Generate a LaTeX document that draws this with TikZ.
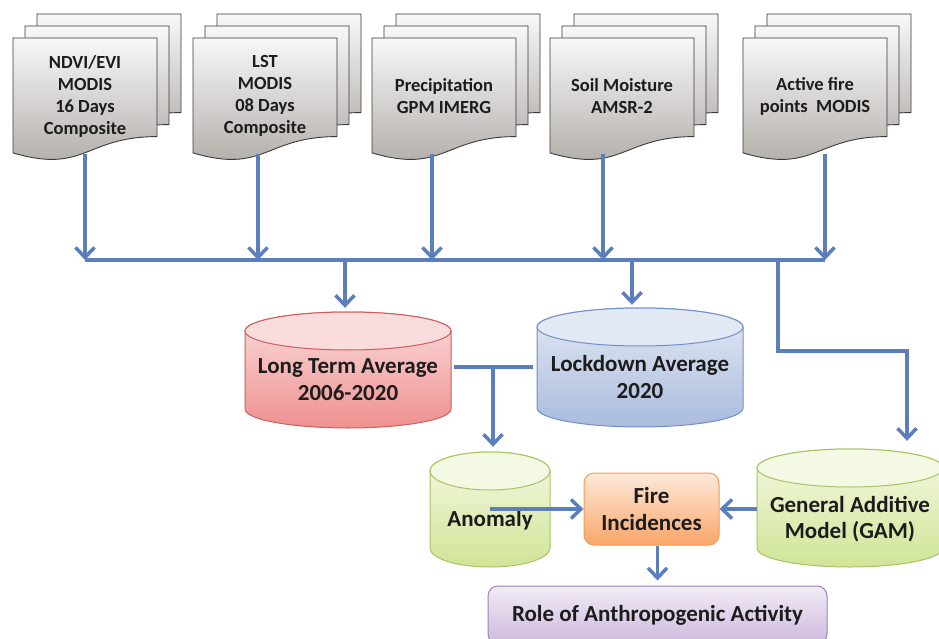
\documentclass[tikz,border=0pt]{standalone}
\usepackage{fontspec}
\setmainfont{Carlito}
\usetikzlibrary{arrows.meta,calc}
\definecolor{arrblue}{HTML}{5B7EBD}
\definecolor{txt}{HTML}{1C1C1C}
\definecolor{docTop}{HTML}{F8F8F8}
\definecolor{docBot}{HTML}{ADA8A3}
\definecolor{docLine}{HTML}{3A3A3A}
\definecolor{redTop}{HTML}{FBDCDC}
\definecolor{redBot}{HTML}{EF9090}
\definecolor{redLine}{HTML}{CB5F5C}
\definecolor{bluTop}{HTML}{E3E9F4}
\definecolor{bluBot}{HTML}{AABBDD}
\definecolor{bluLine}{HTML}{7090C8}
\definecolor{grnTop}{HTML}{F4F9E3}
\definecolor{grnBot}{HTML}{D0E497}
\definecolor{grnLine}{HTML}{A6C462}
\definecolor{orgTop}{HTML}{FDE9DA}
\definecolor{orgBot}{HTML}{F9A66A}
\definecolor{orgLine}{HTML}{F49A52}
\definecolor{purTop}{HTML}{F2ECF6}
\definecolor{purBot}{HTML}{CCB8DC}
\definecolor{purLine}{HTML}{9E80BA}
\tikzset{
  conn/.style={draw=arrblue, line width=3.5pt},
  arr/.style={conn, -{Straight Barb[length=10pt,width=19pt]}},
  doctext/.style={font=\bfseries\fontsize{18.5}{22}\selectfont, align=center, text=txt,
    inner sep=0pt, minimum width=144pt, minimum height=116pt},
  bigtext/.style={font=\bfseries\fontsize{23}{26.5}\selectfont, align=center, text=txt},
  boxnode/.style={bigtext, line width=1pt, rounded corners=10pt, inner sep=0pt},
}
% one page of a document stack: left, top
\newcommand\docpage[2]{%
  \shade[top color=docTop,bottom color=docBot,draw=docLine,line width=0.9pt]
  (#1,#2) -- (#1+144,#2) -- (#1+144,#2+98.6)
  .. controls (#1+72,#2+98.6) and (#1+72,#2+136.2) .. (#1,#2+114.9) -- cycle;}
\newcommand\docstack[2]{\docpage{#1+24}{#2-24}\docpage{#1+12}{#2-12}\docpage{#1}{#2}}
% cylinder: name, cx, top y, half width, bottom y, top colour, bottom colour, line colour, ry
\newcommand\cyl[9]{%
  \shade[top color=#6,bottom color=#7,draw=#8,line width=1pt]
  (#2-#4,#3+#9) -- (#2-#4,#5-#9) arc[start angle=180,end angle=0,x radius=#4,y radius=#9]
  -- (#2+#4,#3+#9) arc[start angle=0,end angle=-180,x radius=#4,y radius=#9] -- cycle;
  \draw[#8,line width=1pt,fill=#6] (#2,#3+#9) ellipse[x radius=#4,y radius=#9];
  \node[inner sep=0pt,minimum width={2*#4*1pt},minimum height={(#5-#3)*1pt}] (#1) at (#2,{(#3+#5)/2}) {};
}
\begin{document}
\begin{tikzpicture}[x=1pt,y=-1pt]
\useasboundingbox (0,0) rectangle (939,639);
\fill[white] (0,0) rectangle (939,639);

% document stacks
\docstack{13}{38}
\docstack{193}{38}
\docstack{372}{38}
\docstack{550}{38}
\docstack{743}{38}
\node[doctext] (d1) at (85,96) {NDVI/EVI\\MODIS\\16 Days\\Composite};
\node[doctext] (d2) at (265,96) {LST\\MODIS\\08 Days\\Composite};
\node[doctext] (d3) at (444,96) {Precipitation\\GPM IMERG};
\node[doctext] (d4) at (622,96) {Soil Moisture\\AMSR-2};
\node[doctext] (d5) at (815,96) {Active fire\\points \ MODIS};

% cylinders
\cyl{ltaC}{348}{312}{103}{428}{redTop}{redBot}{redLine}{19}
\cyl{ldC}{640}{308}{103}{427}{bluTop}{bluBot}{bluLine}{19}
\cyl{anomC}{490}{452}{60}{567}{grnTop}{grnBot}{grnLine}{19}
\cyl{gamC}{850}{449}{93}{567}{grnTop}{grnBot}{grnLine}{19}
\node[bigtext] (lta) at (348,379.5) {Long Term Average\\2006-2020};
\node[bigtext] (ld) at (640,377) {Lockdown Average\\2020};
\node[bigtext] (anom) at (490,520) {Anomaly};
\node[bigtext] (gam) at (850,519) {General Additive\\Model (GAM)};

% boxes
\node[boxnode, draw=orgLine, top color=orgTop, bottom color=orgBot,
      minimum width=135pt, minimum height=72pt] (fire) at (651.5,509) {Fire\\Incidences};
\node[boxnode, draw=purLine, top color=purTop, bottom color=purBot,
      minimum width=339pt, minimum height=58pt] (role) at (657.5,615) {Role of Anthropogenic Activity};

% bus coordinates
\coordinate (b1) at (85,260);
\coordinate (b2) at (258,260);
\coordinate (b3) at (432,260);
\coordinate (b4) at (603,260);
\coordinate (b5) at (825,260);
\coordinate (j1) at (345,260);
\coordinate (j2) at (632,260);
\coordinate (j3) at (778,260);
\coordinate (k) at (907,351);
\coordinate (t) at (493,367);

\draw[arr] (b1 |- d1.south) -- (b1);
\draw[arr] (b2 |- d2.south) -- (b2);
\draw[arr] (b3 |- d3.south) -- (b3);
\draw[arr] (b4 |- d4.south) -- (b4);
\draw[arr] (b5 |- d5.south) -- (b5);
\draw[conn] (b1) -- (b5);

\draw[arr, shorten >=4pt] (j1) -- (j1 |- ltaC.north);
\draw[arr, shorten >=3pt] (j2) -- (j2 |- ldC.north);
\draw[arr, shorten >=8pt] (j3) |- (k) -- (k |- gamC.north);

\draw[conn, shorten <=3pt, shorten >=4pt] (ltaC.east |- t) -- (ldC.west |- t);
\draw[arr, shorten >=5pt] (t) -- (t |- anomC.north);

\draw[arr] (anomC.center |- fire.west) -- (fire.west);
\draw[arr] (gamC.west |- fire.east) -- (fire.east);
\draw[arr, shorten >=5pt] (role.north |- fire.south) -- (role.north);
\end{tikzpicture}
\end{document}
